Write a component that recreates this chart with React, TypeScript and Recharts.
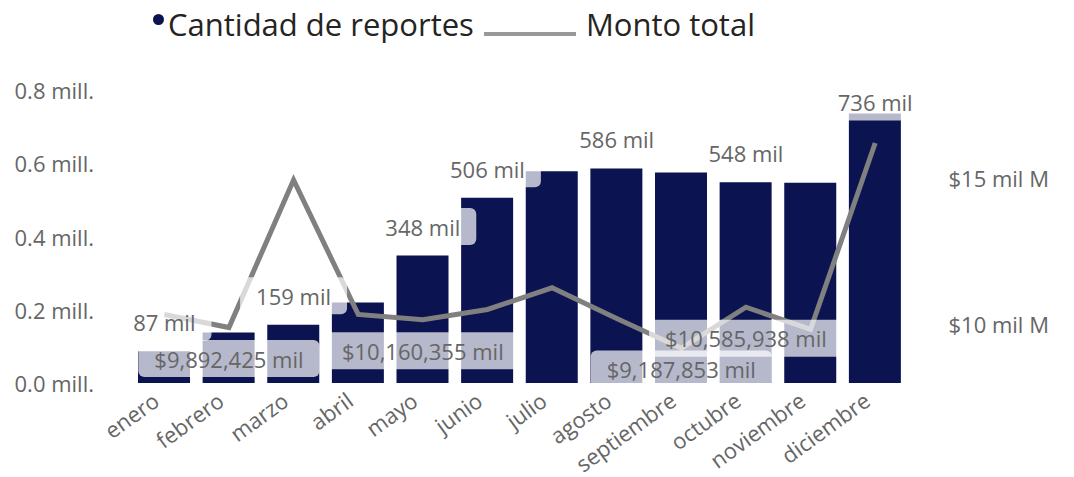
import React from "react"
import { ComposedChart, Bar, Line, XAxis, YAxis, LabelList } from "recharts"

const meses = ["enero", "febrero", "marzo", "abril", "mayo", "junio", "julio", "agosto", "septiembre", "octubre", "noviembre", "diciembre"]

// cantidad de reportes (left axis)
const reportes = [87000, 138000, 159000, 220000, 348000, 506000, 578000, 586000, 575000, 548000, 547000, 736000]

// monto total in pesos (right axis)
const montos = [10340000000, 9892425000, 14930000000, 10340000000, 10160355000, 10510000000, 11250000000, 10200000000, 9187853000, 10585938000, 9830000000, 16190000000]

// which points get a data label, like the original visual
const reportesConEtiqueta = [0, 2, 4, 5, 7, 9, 11]
const montosConEtiqueta = [1, 4, 8, 9]

const leftTicks = [0, 200000, 400000, 600000, 800000]
const rightTicks = [10000000000, 15000000000]

const data = meses.map((mes, i) => ({ mes, reportes: reportes[i], monto: montos[i] }))

const FONT = "'Open Sans', sans-serif"
const TEXT_GRAY = "#666666"
const NAVY = "#0b1350"

let canvas: HTMLCanvasElement | null = null
function textWidth(text: string, size: number) {
  if (!canvas) canvas = document.createElement("canvas")
  const ctx = canvas.getContext("2d")
  if (!ctx) return text.length * size * 0.55
  ctx.font = `${size}px 'Open Sans'`
  return ctx.measureText(text).width
}

function LabelBox({ cx, cy, text }: { cx: number; cy: number; text: string }) {
  const w = textWidth(text, 22) + 32
  return (
    <g>
      <rect x={cx - w / 2} y={cy - 18.5} width={w} height={37} rx={6} fill="#ffffff" fillOpacity={0.7} />
      <text x={cx} y={cy} textAnchor="middle" dominantBaseline="central" fontFamily={FONT} fontSize={22} fill={TEXT_GRAY}>
        {text}
      </text>
    </g>
  )
}

const ReporteLabel = (props: any) => {
  const { x, y, index, value } = props
  if (!reportesConEtiqueta.includes(index)) return null
  const cy = Math.max(y - 29, 102)
  return <LabelBox cx={x} cy={cy} text={`${Math.round(value / 1000)} mil`} />
}

const MontoLabel = (props: any) => {
  const { x, y, index, value } = props
  if (!montosConEtiqueta.includes(index)) return null
  const cy = Math.min(y + 31, 369)
  return <LabelBox cx={x} cy={cy} text={`$${Math.round(value / 1000).toLocaleString("en-US")} mil`} />
}

const LeftTick = (props: any) => {
  const { x, y, payload } = props
  return (
    <text x={x} y={y} textAnchor="end" dominantBaseline="central" fontFamily={FONT} fontSize={22} fill={TEXT_GRAY}>
      {`${(payload.value / 1000000).toFixed(1)} mill.`}
    </text>
  )
}

const RightTick = (props: any) => {
  const { x, y, payload } = props
  return (
    <text x={x} y={y} textAnchor="start" dominantBaseline="central" fontFamily={FONT} fontSize={22} fill={TEXT_GRAY}>
      {`$${payload.value / 1000000000} mil M`}
    </text>
  )
}

const MesTick = (props: any) => {
  const { x, y, payload } = props
  const ax = x - 13
  const ay = y
  return (
    <text
      x={ax}
      y={ay}
      textAnchor="end"
      dy="0.75em"
      transform={`rotate(-36, ${ax}, ${ay})`}
      fontFamily={FONT}
      fontSize={22}
      fill={TEXT_GRAY}
    >
      {payload.value}
    </text>
  )
}

export default function App() {
  return (
    <div style={{ position: "absolute", left: 0, top: 0, width: 1074, height: 477, background: "#ffffff" }}>
      <div
        style={{
          position: "absolute",
          left: 0,
          top: 0,
          height: 48,
          display: "flex",
          alignItems: "center",
          fontFamily: FONT,
          fontSize: 31,
          color: "#252423",
          whiteSpace: "nowrap",
        }}
      >
        <span style={{ width: 153 }} />
        <span style={{ width: 11, height: 11, borderRadius: "50%", background: NAVY, marginRight: 4, marginTop: -10 }} />
        <span>Cantidad de reportes</span>
        <span style={{ width: 92, height: 4, background: "#999999", margin: "20px 10px 0 10px" }} />
        <span>Monto total</span>
      </div>
      <ComposedChart width={1074} height={477} data={data} margin={{ top: 90, right: 0, bottom: 0, left: 0 }}>
        <XAxis dataKey="mes" axisLine={false} tickLine={false} height={94} interval={0} tick={<MesTick />} />
        <YAxis
          yAxisId="left"
          orientation="left"
          width={132}
          domain={[0, 800000]}
          ticks={leftTicks}
          axisLine={false}
          tickLine={false}
          tick={<LeftTick />}
          tickMargin={32}
        />
        <YAxis
          yAxisId="right"
          orientation="right"
          width={166.5}
          domain={[8000000000, 18000000000]}
          ticks={rightTicks}
          axisLine={false}
          tickLine={false}
          tick={<RightTick />}
          tickMargin={35}
        />
        <Bar yAxisId="left" dataKey="reportes" fill={NAVY} barSize={52} isAnimationActive={false} />
        <Line
          yAxisId="right"
          dataKey="monto"
          stroke="#808080"
          strokeWidth={5}
          dot={false}
          activeDot={false}
          type="linear"
          isAnimationActive={false}
        >
          <LabelList dataKey="monto" content={<MontoLabel />} />
        </Line>
        <Line
          yAxisId="left"
          dataKey="reportes"
          stroke="none"
          dot={false}
          activeDot={false}
          legendType="none"
          isAnimationActive={false}
        >
          <LabelList dataKey="reportes" content={<ReporteLabel />} />
        </Line>
      </ComposedChart>
    </div>
  )
}
